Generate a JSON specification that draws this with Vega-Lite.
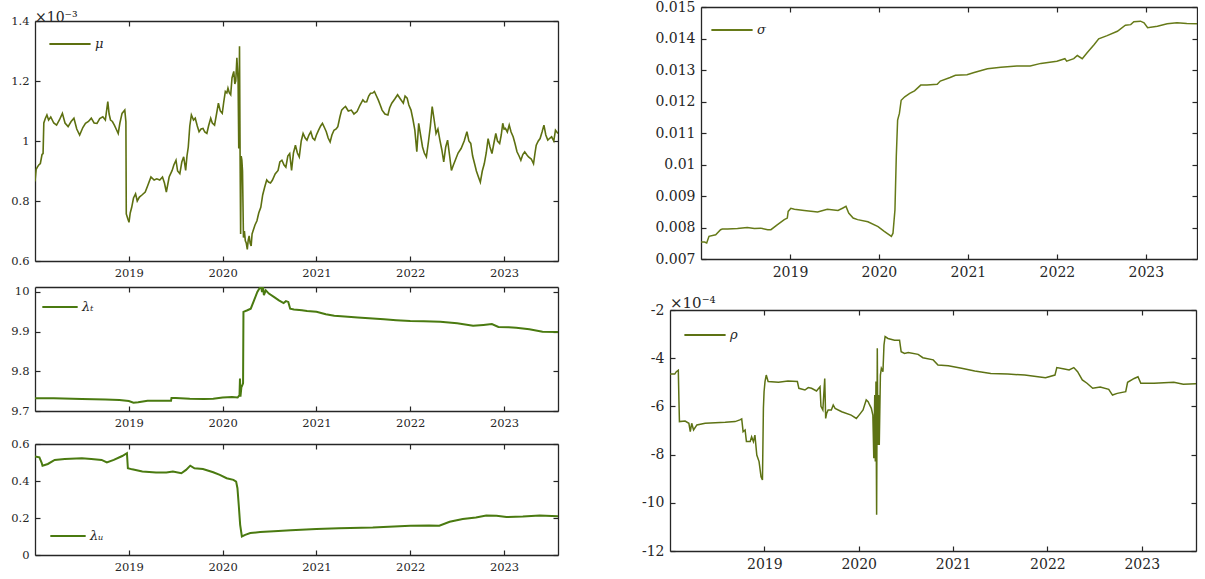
{
"$schema": "https://vega.github.io/schema/vega-lite/v6.json",
"background": "white",
"padding": {"left": 10, "top": 0, "right": 0, "bottom": 0},
"config": {
 "view": {"stroke": null},
 "axis": {"grid": false, "domainColor": "#262626", "domainWidth": 1.3, "tickColor": "#262626", "tickWidth": 1.2, "tickSize": -5, "labelColor": "#262626", "labelFont": "DejaVu Serif", "labelFontSize": 11.5, "labelPadding": 11, "labelFlush": false, "labelOverlap": false},
 "legend": {"title": null, "symbolType": "stroke", "symbolStrokeWidth": 2, "labelFont": "DejaVu Serif", "labelFontStyle": "italic", "labelFontSize": 13, "labelColor": "#262626", "padding": 0, "labelOffset": 3},
 "title": {"font": "DejaVu Serif", "fontSize": 14, "fontWeight": "normal", "color": "#262626", "anchor": "start", "frame": "group"}
},
"datasets": {
 "mu": [{"year":2018.000,"value":0.865},{"year":2018.012,"value":0.905},{"year":2018.025,"value":0.913},{"year":2018.04,"value":0.92},{"year":2018.057,"value":0.925},{"year":2018.075,"value":0.955},{"year":2018.086,"value":0.958},{"year":2018.094,"value":1.06},{"year":2018.11,"value":1.075},{"year":2018.127,"value":1.087},{"year":2018.145,"value":1.07},{"year":2018.168,"value":1.08},{"year":2018.2,"value":1.06},{"year":2018.23,"value":1.053},{"year":2018.26,"value":1.07},{"year":2018.292,"value":1.092},{"year":2018.32,"value":1.06},{"year":2018.353,"value":1.048},{"year":2018.385,"value":1.065},{"year":2018.415,"value":1.076},{"year":2018.445,"value":1.04},{"year":2018.476,"value":1.02},{"year":2018.51,"value":1.045},{"year":2018.538,"value":1.059},{"year":2018.57,"value":1.065},{"year":2018.6,"value":1.076},{"year":2018.63,"value":1.06},{"year":2018.661,"value":1.059},{"year":2018.69,"value":1.075},{"year":2018.723,"value":1.081},{"year":2018.75,"value":1.07},{"year":2018.776,"value":1.131},{"year":2018.79,"value":1.09},{"year":2018.805,"value":1.07},{"year":2018.825,"value":1.065},{"year":2018.846,"value":1.053},{"year":2018.865,"value":1.04},{"year":2018.887,"value":1.025},{"year":2018.905,"value":1.06},{"year":2018.928,"value":1.092},{"year":2018.957,"value":1.103},{"year":2018.969,"value":1.064},{"year":2018.973,"value":0.757},{"year":2018.99,"value":0.74},{"year":2019.002,"value":0.729},{"year":2019.015,"value":0.76},{"year":2019.031,"value":0.779},{"year":2019.05,"value":0.81},{"year":2019.072,"value":0.824},{"year":2019.09,"value":0.8},{"year":2019.113,"value":0.813},{"year":2019.14,"value":0.82},{"year":2019.175,"value":0.83},{"year":2019.2,"value":0.85},{"year":2019.236,"value":0.88},{"year":2019.27,"value":0.87},{"year":2019.298,"value":0.874},{"year":2019.33,"value":0.87},{"year":2019.359,"value":0.88},{"year":2019.38,"value":0.86},{"year":2019.4,"value":0.83},{"year":2019.43,"value":0.88},{"year":2019.462,"value":0.902},{"year":2019.48,"value":0.92},{"year":2019.503,"value":0.936},{"year":2019.52,"value":0.9},{"year":2019.544,"value":0.891},{"year":2019.565,"value":0.93},{"year":2019.585,"value":0.947},{"year":2019.606,"value":0.902},{"year":2019.62,"value":0.95},{"year":2019.634,"value":0.98},{"year":2019.65,"value":1.05},{"year":2019.667,"value":1.087},{"year":2019.69,"value":1.07},{"year":2019.708,"value":1.076},{"year":2019.73,"value":1.05},{"year":2019.749,"value":1.031},{"year":2019.77,"value":1.04},{"year":2019.791,"value":1.042},{"year":2019.81,"value":1.03},{"year":2019.832,"value":1.025},{"year":2019.85,"value":1.05},{"year":2019.873,"value":1.076},{"year":2019.89,"value":1.06},{"year":2019.914,"value":1.053},{"year":2019.935,"value":1.09},{"year":2019.955,"value":1.126},{"year":2019.975,"value":1.1},{"year":2019.996,"value":1.092},{"year":2020.012,"value":1.13},{"year":2020.029,"value":1.165},{"year":2020.045,"value":1.16},{"year":2020.057,"value":1.176},{"year":2020.072,"value":1.16},{"year":2020.086,"value":1.154},{"year":2020.1,"value":1.21},{"year":2020.119,"value":1.232},{"year":2020.13,"value":1.19},{"year":2020.14,"value":1.2},{"year":2020.152,"value":1.277},{"year":2020.165,"value":1.2},{"year":2020.172,"value":0.975},{"year":2020.18,"value":1.316},{"year":2020.186,"value":0.96},{"year":2020.192,"value":0.69},{"year":2020.198,"value":0.95},{"year":2020.205,"value":0.936},{"year":2020.212,"value":0.9},{"year":2020.222,"value":0.678},{"year":2020.232,"value":0.7},{"year":2020.242,"value":0.667},{"year":2020.252,"value":0.66},{"year":2020.263,"value":0.639},{"year":2020.273,"value":0.67},{"year":2020.283,"value":0.684},{"year":2020.293,"value":0.66},{"year":2020.304,"value":0.65},{"year":2020.314,"value":0.69},{"year":2020.324,"value":0.7},{"year":2020.345,"value":0.72},{"year":2020.366,"value":0.734},{"year":2020.385,"value":0.76},{"year":2020.407,"value":0.779},{"year":2020.427,"value":0.82},{"year":2020.448,"value":0.846},{"year":2020.47,"value":0.87},{"year":2020.489,"value":0.863},{"year":2020.51,"value":0.86},{"year":2020.53,"value":0.869},{"year":2020.56,"value":0.89},{"year":2020.591,"value":0.902},{"year":2020.61,"value":0.93},{"year":2020.632,"value":0.936},{"year":2020.655,"value":0.92},{"year":2020.674,"value":0.913},{"year":2020.695,"value":0.95},{"year":2020.715,"value":0.958},{"year":2020.735,"value":0.902},{"year":2020.755,"value":0.96},{"year":2020.776,"value":0.986},{"year":2020.797,"value":0.96},{"year":2020.817,"value":0.947},{"year":2020.838,"value":1.0},{"year":2020.858,"value":1.025},{"year":2020.88,"value":1.01},{"year":2020.899,"value":1.003},{"year":2020.92,"value":1.02},{"year":2020.94,"value":1.031},{"year":2020.96,"value":1.01},{"year":2020.982,"value":1.003},{"year":2021.0,"value":1.02},{"year":2021.023,"value":1.036},{"year":2021.045,"value":1.05},{"year":2021.064,"value":1.059},{"year":2021.085,"value":1.045},{"year":2021.105,"value":1.031},{"year":2021.125,"value":1.01},{"year":2021.146,"value":0.997},{"year":2021.165,"value":1.02},{"year":2021.187,"value":1.036},{"year":2021.21,"value":1.04},{"year":2021.228,"value":1.048},{"year":2021.25,"value":1.08},{"year":2021.269,"value":1.103},{"year":2021.29,"value":1.11},{"year":2021.31,"value":1.115},{"year":2021.34,"value":1.1},{"year":2021.372,"value":1.103},{"year":2021.4,"value":1.09},{"year":2021.433,"value":1.098},{"year":2021.465,"value":1.12},{"year":2021.495,"value":1.137},{"year":2021.515,"value":1.13},{"year":2021.536,"value":1.131},{"year":2021.557,"value":1.15},{"year":2021.577,"value":1.159},{"year":2021.6,"value":1.16},{"year":2021.618,"value":1.165},{"year":2021.64,"value":1.15},{"year":2021.659,"value":1.137},{"year":2021.68,"value":1.12},{"year":2021.7,"value":1.103},{"year":2021.73,"value":1.09},{"year":2021.762,"value":1.087},{"year":2021.78,"value":1.11},{"year":2021.803,"value":1.126},{"year":2021.835,"value":1.14},{"year":2021.865,"value":1.154},{"year":2021.895,"value":1.14},{"year":2021.926,"value":1.126},{"year":2021.945,"value":1.15},{"year":2021.967,"value":1.143},{"year":2021.985,"value":1.12},{"year":2022.008,"value":1.103},{"year":2022.03,"value":1.07},{"year":2022.049,"value":1.036},{"year":2022.07,"value":0.964},{"year":2022.09,"value":1.059},{"year":2022.11,"value":1.02},{"year":2022.131,"value":0.98},{"year":2022.15,"value":0.96},{"year":2022.172,"value":0.947},{"year":2022.195,"value":1.0},{"year":2022.214,"value":1.048},{"year":2022.234,"value":1.115},{"year":2022.255,"value":1.07},{"year":2022.275,"value":1.025},{"year":2022.295,"value":1.04},{"year":2022.316,"value":1.003},{"year":2022.337,"value":0.97},{"year":2022.357,"value":0.93},{"year":2022.378,"value":0.98},{"year":2022.398,"value":1.003},{"year":2022.42,"value":0.95},{"year":2022.439,"value":0.902},{"year":2022.46,"value":0.92},{"year":2022.48,"value":0.936},{"year":2022.51,"value":0.96},{"year":2022.542,"value":0.975},{"year":2022.575,"value":1.0},{"year":2022.604,"value":1.031},{"year":2022.625,"value":1.0},{"year":2022.645,"value":0.992},{"year":2022.665,"value":0.95},{"year":2022.686,"value":0.924},{"year":2022.705,"value":0.9},{"year":2022.727,"value":0.88},{"year":2022.747,"value":0.863},{"year":2022.768,"value":0.9},{"year":2022.789,"value":0.924},{"year":2022.81,"value":0.96},{"year":2022.83,"value":1.008},{"year":2022.85,"value":0.98},{"year":2022.871,"value":0.958},{"year":2022.89,"value":0.99},{"year":2022.912,"value":1.025},{"year":2022.93,"value":1.0},{"year":2022.953,"value":0.992},{"year":2022.97,"value":1.02},{"year":2022.986,"value":1.059},{"year":2023.0,"value":1.04},{"year":2023.014,"value":1.042},{"year":2023.035,"value":1.03},{"year":2023.055,"value":1.053},{"year":2023.075,"value":1.03},{"year":2023.097,"value":1.014},{"year":2023.118,"value":0.99},{"year":2023.138,"value":0.964},{"year":2023.16,"value":0.95},{"year":2023.179,"value":0.936},{"year":2023.2,"value":0.955},{"year":2023.22,"value":0.964},{"year":2023.24,"value":0.955},{"year":2023.261,"value":0.947},{"year":2023.29,"value":0.94},{"year":2023.314,"value":0.924},{"year":2023.33,"value":0.96},{"year":2023.343,"value":0.986},{"year":2023.365,"value":1.0},{"year":2023.384,"value":1.008},{"year":2023.405,"value":1.03},{"year":2023.425,"value":1.053},{"year":2023.445,"value":1.02},{"year":2023.466,"value":1.003},{"year":2023.49,"value":1.01},{"year":2023.507,"value":1.014},{"year":2023.53,"value":1.0},{"year":2023.548,"value":1.036},{"year":2023.575,"value":1.025}],
 "lambdaT": [{"year":2018.0,"value":9.732},{"year":2018.2,"value":9.732},{"year":2018.5,"value":9.73},{"year":2018.75,"value":9.729},{"year":2018.9,"value":9.728},{"year":2019.0,"value":9.725},{"year":2019.05,"value":9.721},{"year":2019.1,"value":9.722},{"year":2019.2,"value":9.726},{"year":2019.3,"value":9.726},{"year":2019.45,"value":9.726},{"year":2019.455,"value":9.733},{"year":2019.5,"value":9.733},{"year":2019.65,"value":9.731},{"year":2019.8,"value":9.73},{"year":2019.9,"value":9.731},{"year":2020.0,"value":9.734},{"year":2020.1,"value":9.735},{"year":2020.16,"value":9.734},{"year":2020.18,"value":9.74},{"year":2020.185,"value":9.782},{"year":2020.19,"value":9.736},{"year":2020.2,"value":9.76},{"year":2020.21,"value":9.765},{"year":2020.218,"value":9.77},{"year":2020.222,"value":9.95},{"year":2020.264,"value":9.954},{"year":2020.3,"value":9.958},{"year":2020.335,"value":9.979},{"year":2020.37,"value":10.0},{"year":2020.39,"value":10.008},{"year":2020.41,"value":10.015},{"year":2020.42,"value":10.0},{"year":2020.43,"value":10.015},{"year":2020.44,"value":9.992},{"year":2020.46,"value":10.004},{"year":2020.493,"value":9.996},{"year":2020.55,"value":9.987},{"year":2020.6,"value":9.979},{"year":2020.65,"value":9.972},{"year":2020.675,"value":9.977},{"year":2020.7,"value":9.975},{"year":2020.72,"value":9.958},{"year":2020.76,"value":9.956},{"year":2020.845,"value":9.954},{"year":2020.9,"value":9.952},{"year":2021.0,"value":9.95},{"year":2021.1,"value":9.944},{"year":2021.19,"value":9.94},{"year":2021.3,"value":9.938},{"year":2021.44,"value":9.936},{"year":2021.6,"value":9.933},{"year":2021.72,"value":9.931},{"year":2021.85,"value":9.929},{"year":2022.0,"value":9.927},{"year":2022.144,"value":9.926},{"year":2022.32,"value":9.925},{"year":2022.5,"value":9.921},{"year":2022.67,"value":9.915},{"year":2022.78,"value":9.917},{"year":2022.87,"value":9.919},{"year":2022.94,"value":9.912},{"year":2023.05,"value":9.911},{"year":2023.13,"value":9.91},{"year":2023.27,"value":9.906},{"year":2023.41,"value":9.9},{"year":2023.575,"value":9.899}],
 "lambdaU": [{"year":2018.0,"value":0.532},{"year":2018.047,"value":0.528},{"year":2018.07,"value":0.5},{"year":2018.08,"value":0.483},{"year":2018.137,"value":0.492},{"year":2018.21,"value":0.514},{"year":2018.317,"value":0.519},{"year":2018.5,"value":0.523},{"year":2018.6,"value":0.519},{"year":2018.71,"value":0.514},{"year":2018.766,"value":0.5},{"year":2018.84,"value":0.514},{"year":2018.93,"value":0.535},{"year":2018.98,"value":0.55},{"year":2018.99,"value":0.469},{"year":2019.036,"value":0.463},{"year":2019.144,"value":0.451},{"year":2019.29,"value":0.446},{"year":2019.4,"value":0.446},{"year":2019.47,"value":0.451},{"year":2019.56,"value":0.442},{"year":2019.61,"value":0.46},{"year":2019.655,"value":0.483},{"year":2019.7,"value":0.469},{"year":2019.79,"value":0.465},{"year":2019.9,"value":0.447},{"year":2019.97,"value":0.433},{"year":2020.043,"value":0.415},{"year":2020.115,"value":0.406},{"year":2020.144,"value":0.397},{"year":2020.158,"value":0.361},{"year":2020.173,"value":0.262},{"year":2020.187,"value":0.163},{"year":2020.205,"value":0.1},{"year":2020.24,"value":0.109},{"year":2020.295,"value":0.119},{"year":2020.4,"value":0.124},{"year":2020.547,"value":0.128},{"year":2020.727,"value":0.134},{"year":2021.0,"value":0.14},{"year":2021.24,"value":0.145},{"year":2021.6,"value":0.149},{"year":2022.0,"value":0.158},{"year":2022.2,"value":0.16},{"year":2022.31,"value":0.158},{"year":2022.42,"value":0.18},{"year":2022.56,"value":0.194},{"year":2022.7,"value":0.203},{"year":2022.81,"value":0.214},{"year":2022.92,"value":0.212},{"year":2023.025,"value":0.205},{"year":2023.2,"value":0.208},{"year":2023.38,"value":0.214},{"year":2023.575,"value":0.21}],
 "sigma": [{"year":2018.0,"value":0.00754},{"year":2018.04,"value":0.00754},{"year":2018.064,"value":0.00751},{"year":2018.09,"value":0.00772},{"year":2018.165,"value":0.00777},{"year":2018.22,"value":0.00793},{"year":2018.24,"value":0.00795},{"year":2018.3,"value":0.00795},{"year":2018.41,"value":0.00797},{"year":2018.52,"value":0.008},{"year":2018.6,"value":0.00797},{"year":2018.67,"value":0.00798},{"year":2018.75,"value":0.00793},{"year":2018.786,"value":0.00793},{"year":2018.86,"value":0.00809},{"year":2018.936,"value":0.00825},{"year":2018.97,"value":0.0083},{"year":2018.98,"value":0.00851},{"year":2019.01,"value":0.00861},{"year":2019.05,"value":0.00858},{"year":2019.16,"value":0.00854},{"year":2019.31,"value":0.00849},{"year":2019.42,"value":0.00858},{"year":2019.54,"value":0.00854},{"year":2019.59,"value":0.00861},{"year":2019.63,"value":0.00867},{"year":2019.66,"value":0.00846},{"year":2019.71,"value":0.0083},{"year":2019.76,"value":0.00825},{"year":2019.876,"value":0.00818},{"year":2019.99,"value":0.00803},{"year":2020.06,"value":0.00788},{"year":2020.14,"value":0.00772},{"year":2020.158,"value":0.00782},{"year":2020.18,"value":0.00856},{"year":2020.195,"value":0.01025},{"year":2020.21,"value":0.01141},{"year":2020.23,"value":0.01162},{"year":2020.25,"value":0.01204},{"year":2020.29,"value":0.01215},{"year":2020.346,"value":0.01226},{"year":2020.4,"value":0.01234},{"year":2020.47,"value":0.01252},{"year":2020.54,"value":0.01252},{"year":2020.655,"value":0.01255},{"year":2020.69,"value":0.01265},{"year":2020.8,"value":0.01276},{"year":2020.86,"value":0.01283},{"year":2020.99,"value":0.01285},{"year":2021.07,"value":0.01292},{"year":2021.22,"value":0.01304},{"year":2021.37,"value":0.01309},{"year":2021.55,"value":0.01313},{"year":2021.7,"value":0.01313},{"year":2021.82,"value":0.01321},{"year":2022.0,"value":0.01328},{"year":2022.09,"value":0.01336},{"year":2022.11,"value":0.01328},{"year":2022.19,"value":0.01336},{"year":2022.23,"value":0.01346},{"year":2022.285,"value":0.01336},{"year":2022.34,"value":0.01355},{"year":2022.42,"value":0.01381},{"year":2022.47,"value":0.01399},{"year":2022.565,"value":0.01409},{"year":2022.68,"value":0.01423},{"year":2022.77,"value":0.01442},{"year":2022.83,"value":0.01444},{"year":2022.865,"value":0.01453},{"year":2022.94,"value":0.01455},{"year":2022.98,"value":0.0145},{"year":2023.02,"value":0.01434},{"year":2023.13,"value":0.01439},{"year":2023.24,"value":0.01447},{"year":2023.35,"value":0.0145},{"year":2023.46,"value":0.01448},{"year":2023.575,"value":0.01447}],
 "rho": [{"year":2018.0,"value":-4.66},{"year":2018.05,"value":-4.66},{"year":2018.067,"value":-4.56},{"year":2018.088,"value":-4.5},{"year":2018.095,"value":-5.8},{"year":2018.1,"value":-6.63},{"year":2018.16,"value":-6.61},{"year":2018.2,"value":-6.7},{"year":2018.215,"value":-7.05},{"year":2018.23,"value":-6.7},{"year":2018.25,"value":-6.98},{"year":2018.285,"value":-6.77},{"year":2018.373,"value":-6.7},{"year":2018.48,"value":-6.68},{"year":2018.585,"value":-6.66},{"year":2018.69,"value":-6.63},{"year":2018.74,"value":-6.56},{"year":2018.76,"value":-6.52},{"year":2018.775,"value":-7.05},{"year":2018.796,"value":-6.98},{"year":2018.81,"value":-7.46},{"year":2018.85,"value":-7.46},{"year":2018.865,"value":-7.26},{"year":2018.884,"value":-7.46},{"year":2018.9,"value":-7.19},{"year":2018.92,"value":-8.02},{"year":2018.944,"value":-8.29},{"year":2018.965,"value":-8.92},{"year":2018.98,"value":-9.05},{"year":2018.99,"value":-6.08},{"year":2018.997,"value":-5.39},{"year":2019.007,"value":-4.97},{"year":2019.02,"value":-4.7},{"year":2019.04,"value":-4.97},{"year":2019.15,"value":-5.0},{"year":2019.25,"value":-4.95},{"year":2019.35,"value":-4.97},{"year":2019.366,"value":-5.25},{"year":2019.43,"value":-5.32},{"year":2019.465,"value":-5.22},{"year":2019.5,"value":-5.25},{"year":2019.553,"value":-5.36},{"year":2019.59,"value":-5.18},{"year":2019.6,"value":-6.0},{"year":2019.62,"value":-6.15},{"year":2019.64,"value":-4.84},{"year":2019.65,"value":-6.5},{"year":2019.66,"value":-6.29},{"year":2019.676,"value":-6.15},{"year":2019.71,"value":-6.15},{"year":2019.73,"value":-5.94},{"year":2019.75,"value":-6.08},{"year":2019.82,"value":-6.22},{"year":2019.92,"value":-6.36},{"year":2019.975,"value":-6.5},{"year":2020.01,"value":-6.33},{"year":2020.046,"value":-6.15},{"year":2020.08,"value":-5.73},{"year":2020.1,"value":-5.8},{"year":2020.116,"value":-5.94},{"year":2020.134,"value":-6.08},{"year":2020.15,"value":-6.36},{"year":2020.16,"value":-8.15},{"year":2020.17,"value":-5.53},{"year":2020.176,"value":-8.29},{"year":2020.183,"value":-4.97},{"year":2020.19,"value":-10.5},{"year":2020.197,"value":-3.59},{"year":2020.204,"value":-7.6},{"year":2020.21,"value":-5.53},{"year":2020.218,"value":-7.6},{"year":2020.23,"value":-4.7},{"year":2020.24,"value":-4.42},{"year":2020.257,"value":-4.56},{"year":2020.268,"value":-3.45},{"year":2020.28,"value":-3.1},{"year":2020.31,"value":-3.18},{"year":2020.38,"value":-3.25},{"year":2020.433,"value":-3.25},{"year":2020.45,"value":-3.73},{"year":2020.486,"value":-3.8},{"year":2020.525,"value":-3.76},{"year":2020.63,"value":-3.84},{"year":2020.68,"value":-3.98},{"year":2020.79,"value":-4.07},{"year":2020.84,"value":-4.28},{"year":2020.95,"value":-4.31},{"year":2021.09,"value":-4.42},{"year":2021.23,"value":-4.53},{"year":2021.4,"value":-4.63},{"year":2021.58,"value":-4.66},{"year":2021.76,"value":-4.7},{"year":2021.9,"value":-4.77},{"year":2021.98,"value":-4.81},{"year":2022.08,"value":-4.7},{"year":2022.1,"value":-4.39},{"year":2022.18,"value":-4.45},{"year":2022.23,"value":-4.49},{"year":2022.28,"value":-4.39},{"year":2022.32,"value":-4.56},{"year":2022.37,"value":-4.9},{"year":2022.42,"value":-5.04},{"year":2022.48,"value":-5.25},{"year":2022.56,"value":-5.2},{"year":2022.65,"value":-5.29},{"year":2022.69,"value":-5.53},{"year":2022.74,"value":-5.46},{"year":2022.83,"value":-5.39},{"year":2022.85,"value":-5.0},{"year":2022.92,"value":-4.84},{"year":2022.96,"value":-4.77},{"year":2022.99,"value":-5.04},{"year":2023.13,"value":-5.04},{"year":2023.34,"value":-5.0},{"year":2023.44,"value":-5.08},{"year":2023.575,"value":-5.06}]
},
"bounds": "full",
"spacing": 82,
"resolve": {"scale": {"color": "independent"}, "legend": {"color": "independent"}},
"hconcat": [
 {
  "bounds": "flush",
  "spacing": 26,
  "resolve": {"scale": {"color": "independent"}, "legend": {"color": "independent"}},
  "vconcat": [
   {
    "width": 523, "height": 254,
    "title": {"text": "×10⁻³", "offset": -18},
    "data": {"name": "mu"},
    "resolve": {"axis": {"x": "independent", "y": "independent"}},
    "layer": [
     {"mark": {"type": "line", "strokeWidth": 1.6, "clip": true},
      "encoding": {
       "x": {"field": "year", "type": "quantitative", "scale": {"domain": [2018, 2023.575], "nice": false, "zero": false}, "axis": {"orient": "bottom", "title": null, "values": [2019, 2020, 2021, 2022, 2023], "format": "d"}},
       "y": {"field": "value", "type": "quantitative", "scale": {"domain": [0.6, 1.4], "range": [254, 14], "nice": false, "zero": false}, "axis": {"orient": "left", "title": null, "values": [0.6, 0.8, 1, 1.2, 1.4], "format": "~g"}},
       "color": {"datum": "μ", "scale": {"range": ["#5d7010"]}, "legend": {"orient": "none", "legendX": 13, "legendY": 15, "symbolSize": 1700}}
      }},
     {"mark": {"type": "line", "opacity": 0},
      "encoding": {
       "x": {"field": "year", "type": "quantitative", "axis": {"orient": "top", "offset": -14, "title": null, "labels": false, "values": [2019, 2020, 2021, 2022, 2023]}},
       "y": {"field": "value", "type": "quantitative", "axis": {"orient": "right", "title": null, "labels": false, "values": [0.6, 0.8, 1, 1.2, 1.4]}}
      }}
    ]
   },
   {
    "bounds": "flush",
    "spacing": 33,
    "resolve": {"scale": {"color": "independent"}, "legend": {"color": "independent"}},
    "vconcat": [
     {
      "width": 523, "height": 124,
      "data": {"name": "lambdaT"},
      "resolve": {"axis": {"x": "independent", "y": "independent"}},
      "layer": [
       {"mark": {"type": "line", "strokeWidth": 2, "clip": true},
        "encoding": {
         "x": {"field": "year", "type": "quantitative", "scale": {"domain": [2018, 2023.575], "nice": false, "zero": false}, "axis": {"orient": "bottom", "title": null, "values": [2019, 2020, 2021, 2022, 2023], "format": "d"}},
         "y": {"field": "value", "type": "quantitative", "scale": {"domain": [9.7, 10.0126], "nice": false, "zero": false}, "axis": {"orient": "left", "title": null, "values": [9.7, 9.8, 9.9, 10], "format": "~g"}},
         "color": {"datum": "λₜ", "scale": {"range": ["#4a7a10"]}, "legend": {"orient": "none", "legendX": 6, "legendY": 1, "symbolSize": 1250}}
        }},
       {"mark": {"type": "line", "opacity": 0},
        "encoding": {
         "x": {"field": "year", "type": "quantitative", "axis": {"orient": "top", "title": null, "labels": false, "values": [2019, 2020, 2021, 2022, 2023]}},
         "y": {"field": "value", "type": "quantitative", "axis": {"orient": "right", "title": null, "labels": false, "values": [9.7, 9.8, 9.9, 10]}}
        }}
      ]
     },
     {
      "width": 523, "height": 111,
      "data": {"name": "lambdaU"},
      "resolve": {"axis": {"x": "independent", "y": "independent"}},
      "layer": [
       {"mark": {"type": "line", "strokeWidth": 2, "clip": true},
        "encoding": {
         "x": {"field": "year", "type": "quantitative", "scale": {"domain": [2018, 2023.575], "nice": false, "zero": false}, "axis": {"orient": "bottom", "title": null, "values": [2019, 2020, 2021, 2022, 2023], "format": "d"}},
         "y": {"field": "value", "type": "quantitative", "scale": {"domain": [0, 0.6], "nice": false, "zero": false}, "axis": {"orient": "left", "title": null, "values": [0, 0.2, 0.4, 0.6], "format": "~g"}},
         "color": {"datum": "λᵤ", "scale": {"range": ["#4a7a10"]}, "legend": {"orient": "none", "legendX": 14, "legendY": 73, "symbolSize": 1250}}
        }},
       {"mark": {"type": "line", "opacity": 0},
        "encoding": {
         "x": {"field": "year", "type": "quantitative", "axis": {"orient": "top", "title": null, "labels": false, "values": [2019, 2020, 2021, 2022, 2023]}},
         "y": {"field": "value", "type": "quantitative", "axis": {"orient": "right", "title": null, "labels": false, "values": [0, 0.2, 0.4, 0.6]}}
        }}
      ]
     }
    ]
   }
  ]
 },
 {
  "bounds": "flush",
  "spacing": 51,
  "resolve": {"scale": {"color": "independent"}, "legend": {"color": "independent"}},
  "vconcat": [
   {
    "width": 527, "height": 252,
    "data": {"name": "sigma"},
    "resolve": {"axis": {"x": "independent", "y": "independent"}},
    "layer": [
     {"mark": {"type": "line", "strokeWidth": 1.5, "clip": true},
      "encoding": {
       "x": {"field": "year", "type": "quantitative", "scale": {"domain": [2018, 2023.575], "range": [31, 527], "nice": false, "zero": false}, "axis": {"orient": "bottom", "title": null, "values": [2019, 2020, 2021, 2022, 2023], "format": "d", "labelFontSize": 14}},
       "y": {"field": "value", "type": "quantitative", "scale": {"domain": [0.007, 0.015], "nice": false, "zero": false}, "axis": {"orient": "left", "offset": -31, "title": null, "values": [0.007, 0.008, 0.009, 0.01, 0.011, 0.012, 0.013, 0.014, 0.015], "format": "~g", "labelFontSize": 14}},
       "color": {"datum": "σ", "scale": {"range": ["#667a18"]}, "legend": {"orient": "none", "legendX": 40, "legendY": 1, "symbolSize": 1700}}
      }},
     {"mark": {"type": "line", "opacity": 0},
      "encoding": {
       "x": {"field": "year", "type": "quantitative", "axis": {"orient": "top", "title": null, "labels": false, "values": [2019, 2020, 2021, 2022, 2023]}},
       "y": {"field": "value", "type": "quantitative", "axis": {"orient": "right", "title": null, "labels": false, "values": [0.007, 0.008, 0.009, 0.01, 0.011, 0.012, 0.013, 0.014, 0.015]}}
      }}
    ]
   },
   {
    "width": 526, "height": 241,
    "title": {"text": "×10⁻⁴", "offset": -8, "fontSize": 15},
    "data": {"name": "rho"},
    "resolve": {"axis": {"x": "independent", "y": "independent"}},
    "layer": [
     {"mark": {"type": "line", "strokeWidth": 1.5, "clip": true},
      "encoding": {
       "x": {"field": "year", "type": "quantitative", "scale": {"domain": [2018, 2023.575], "nice": false, "zero": false}, "axis": {"orient": "bottom", "title": null, "values": [2019, 2020, 2021, 2022, 2023], "format": "d", "labelFontSize": 14}},
       "y": {"field": "value", "type": "quantitative", "scale": {"domain": [-12, -2], "nice": false, "zero": false}, "axis": {"orient": "left", "title": null, "values": [-12, -10, -8, -6, -4, -2], "labelExpr": "'' + datum.value", "labelFontSize": 14}},
       "color": {"datum": "ρ", "scale": {"range": ["#5d7214"]}, "legend": {"orient": "none", "legendX": 13, "legendY": 3, "symbolSize": 1700}}
      }},
     {"mark": {"type": "line", "opacity": 0},
      "encoding": {
       "x": {"field": "year", "type": "quantitative", "axis": {"orient": "top", "title": null, "labels": false, "values": [2019, 2020, 2021, 2022, 2023]}},
       "y": {"field": "value", "type": "quantitative", "axis": {"orient": "right", "title": null, "labels": false, "values": [-12, -10, -8, -6, -4, -2]}}
      }}
    ]
   }
  ]
 }
]
}
